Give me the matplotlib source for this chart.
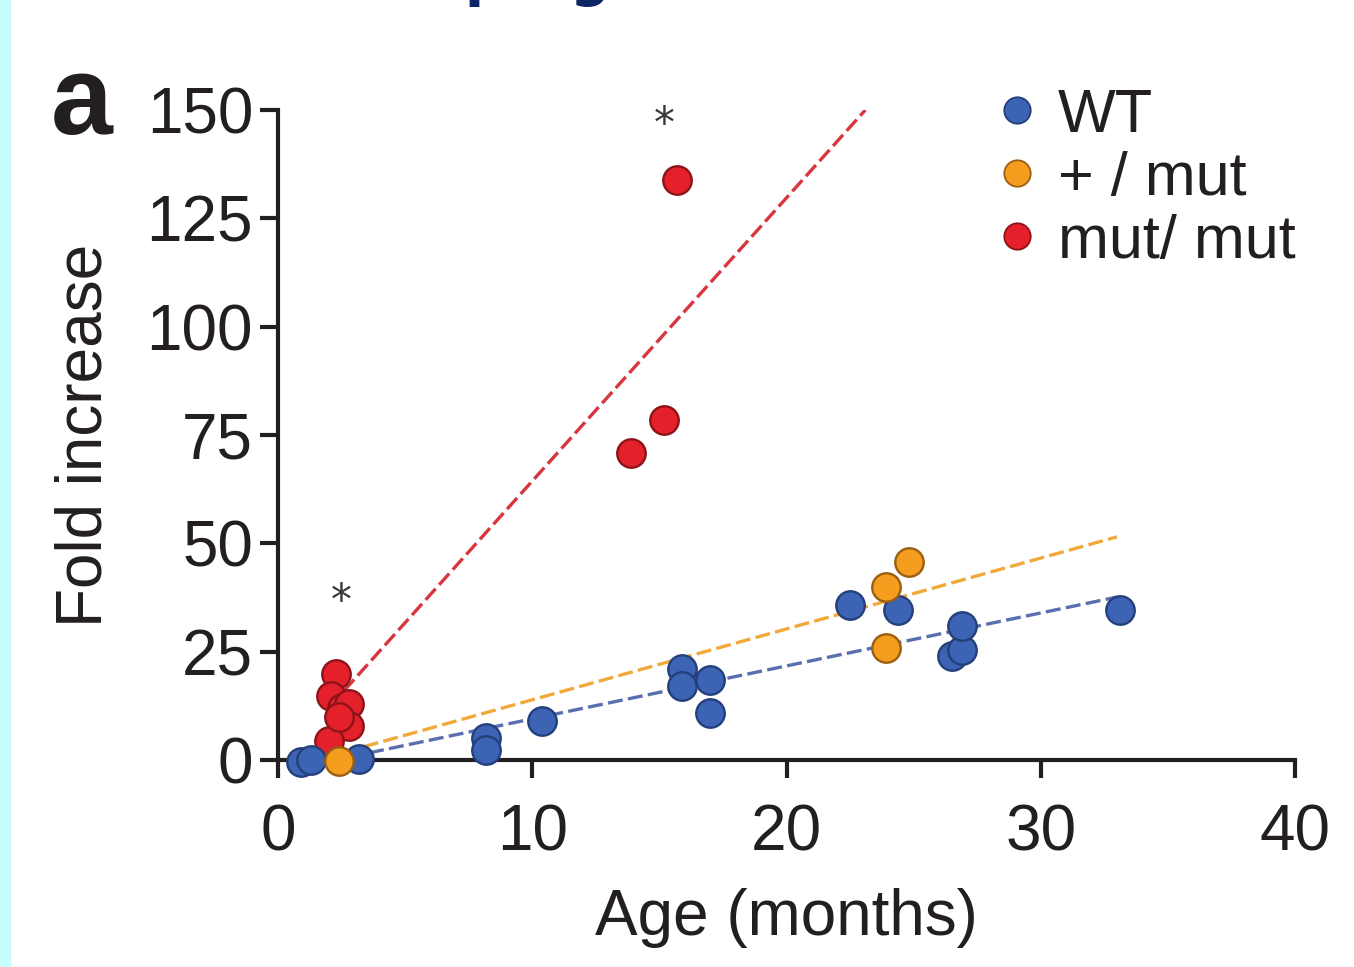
import matplotlib.pyplot as plt
from matplotlib.lines import Line2D
from matplotlib.patches import Rectangle

# data
wt_age = [0.9, 1.3, 3.2, 8.2, 8.2, 10.4, 15.9, 15.9, 17.0, 17.0, 22.5, 24.4, 26.5, 26.9, 26.9, 33.1]
wt_fold = [-0.5, 0.0, 0.2, 5.0, 2.3, 9.0, 21.0, 17.0, 18.5, 10.8, 35.8, 34.6, 24.0, 25.4, 31.0, 34.6]

het_age = [2.4, 23.9, 23.9, 24.8]
het_fold = [-0.3, 40.0, 25.8, 45.7]

mut_age = [2.3, 2.1, 2.5, 2.8, 2.8, 2.0, 2.4, 13.9, 15.2, 15.7]
mut_fold = [19.8, 14.8, 12.0, 13.0, 7.8, 4.5, 10.0, 70.8, 78.5, 133.8]

# fitted lines (end points)
wt_fit_x = [2.8, 33.0]
wt_fit_y = [0.7, 37.6]
het_fit_x = [2.6, 33.0]
het_fit_y = [1.8, 51.5]
mut_fit_x = [2.6, 23.1]
mut_fit_y = [16.0, 150.0]

star_x = [2.5, 15.2]
star_y = [36.5, 146.5]

labels = ['WT', '+ / mut', 'mut/ mut']
face = ['#3d63b5', '#f59d1e', '#e4202a']
edge = ['#24407a', '#9a5f12', '#8c1418']
ink = '#231f20'

plt.rcParams['font.family'] = ['Liberation Sans', 'DejaVu Sans']

fig = plt.figure(figsize=(13.54, 9.67), dpi=100)
fig.patches.append(Rectangle((0, 0), 10 / 1354, 1, transform=fig.transFigure,
                             color='#c8fcfd', zorder=0))
# title of the page, cut off at the top edge
fig.text(-0.133, 1 + 5 / 967, 'Age-related disease progression', color='#0b2565',
         fontsize=40, fontweight='bold', family='DejaVu Sans', va='baseline')

ax = fig.add_axes([278 / 1354, 1 - 760 / 967, 1017 / 1354, 650 / 967])

dash = (0, (4.5, 1.6))
ax.plot(mut_fit_x, mut_fit_y, linestyle=dash, color='#d8363f', lw=2.4, zorder=2)
ax.plot(het_fit_x, het_fit_y, linestyle=dash, color='#f0a93a', lw=2.4, zorder=2)
ax.plot(wt_fit_x, wt_fit_y, linestyle=dash, color='#5a6fb0', lw=2.4, zorder=2)

ax.scatter(wt_age, wt_fold, s=420, c=face[0], edgecolors=edge[0], linewidths=1.7,
           zorder=4, clip_on=False)
ax.scatter(het_age, het_fold, s=420, c=face[1], edgecolors=edge[1], linewidths=1.7,
           zorder=5, clip_on=False)
ax.scatter(mut_age, mut_fold, s=420, c=face[2], edgecolors=edge[2], linewidths=1.7,
           zorder=3, clip_on=False)

for sx, sy in zip(star_x, star_y):
    ax.text(sx, sy, '*', fontsize=30, color='#3a3a3a', ha='center', va='center',
            family='DejaVu Sans')

ax.set_xlim(0, 40)
ax.set_ylim(0, 150)
ax.set_xticks([0, 10, 20, 30, 40])
ax.set_yticks([0, 25, 50, 75, 100, 125, 150])
ax.spines['top'].set_visible(False)
ax.spines['right'].set_visible(False)
for s in ('left', 'bottom'):
    ax.spines[s].set_linewidth(3)
    ax.spines[s].set_color(ink)
ax.tick_params(direction='out', length=13, width=3, color=ink, labelsize=46,
               labelcolor=ink)
ax.tick_params(axis='y', pad=5)
ax.tick_params(axis='x', pad=18)
ax.set_xlabel('Age (months)', fontsize=46, color=ink, labelpad=18)
ax.set_ylabel('Fold increase', fontsize=46, color=ink, labelpad=23)

fig.text(51 / 1354, 1 - 134 / 967, 'a', fontsize=80, fontweight='bold', color=ink,
         va='baseline')

handles = [Line2D([], [], marker='o', ls='none', ms=19, mfc=f, mec=e, mew=1.3)
           for f, e in zip(face, edge)]
ax.legend(handles, labels, loc='upper left', bbox_to_anchor=(957 / 1354, 1 - 57 / 967),
          bbox_transform=fig.transFigure, frameon=False, fontsize=44,
          handletextpad=0.2, labelspacing=0.1, borderpad=0, handlelength=0.95,
          labelcolor=ink)

fig.savefig('out.png', dpi=100, facecolor='white')
